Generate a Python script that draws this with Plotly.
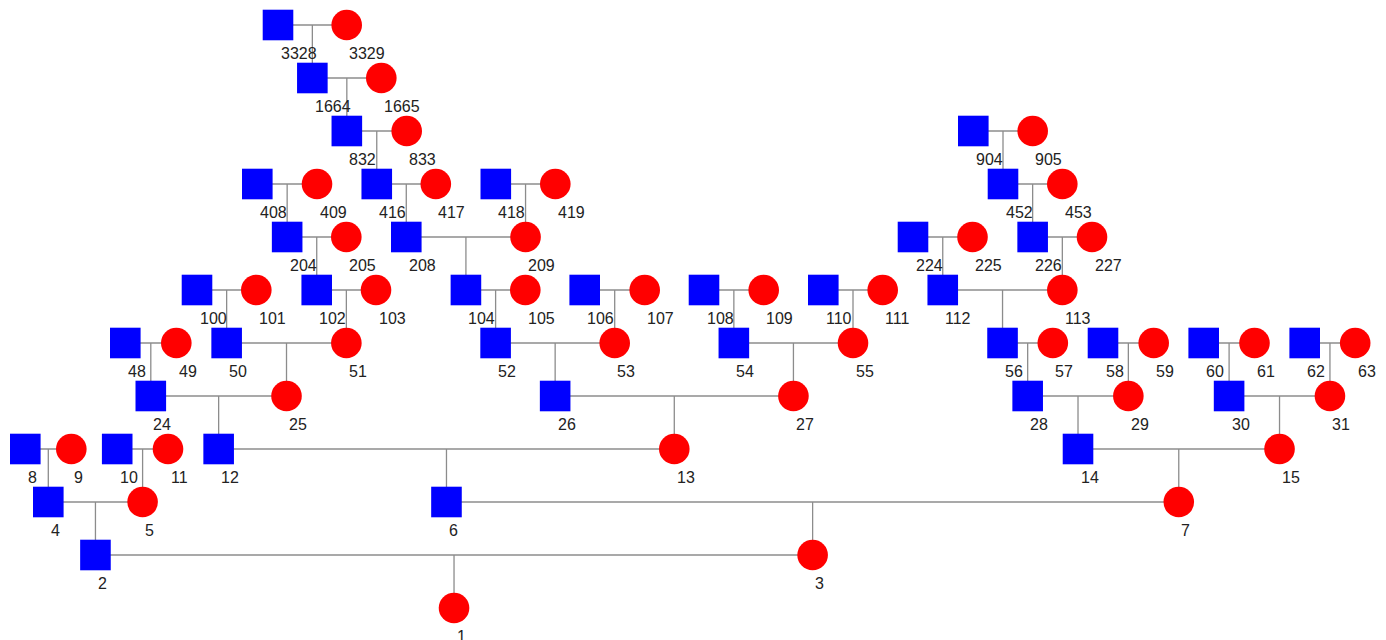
import plotly.graph_objects as go

# Ahnentafel numbers of everyone in the pedigree (father of n is 2n, mother is 2n+1)
person_ids = [1, 2, 3, 4, 5, 6, 7, 8, 9, 10, 11, 12, 13, 14, 15,
              24, 25, 26, 27, 28, 29, 30, 31,
              48, 49, 50, 51, 52, 53, 54, 55, 56, 57, 58, 59, 60, 61, 62, 63,
              100, 101, 102, 103, 104, 105, 106, 107, 108, 109, 110, 111, 112, 113,
              204, 205, 208, 209, 224, 225, 226, 227,
              408, 409, 416, 417, 418, 419, 452, 453,
              832, 833, 904, 905,
              1664, 1665,
              3328, 3329]

# founders (parents not shown) and their horizontal layout position
founder_ids = [8, 9, 10, 11, 48, 49, 100, 101, 103, 105, 106, 107, 108, 109, 110, 111,
               57, 58, 59, 60, 61, 62, 63, 205, 224, 225, 227,
               408, 409, 417, 418, 419, 453, 833, 904, 905, 1665, 3328, 3329]
founder_pos = [25.3, 71.3, 117.2, 168.0, 125.3, 176.3, 197.0, 256.3, 376.0, 525.3,
               584.7, 644.7, 704.0, 763.7, 823.3, 882.7,
               1052.8, 1103.0, 1153.7, 1203.7, 1254.5, 1304.7, 1355.2, 346.3, 913.0, 972.5, 1092.0,
               257.3, 317.0, 435.8, 495.8, 555.3, 1062.3, 406.7, 973.3, 1032.7, 381.3, 278.0, 346.7]

people = set(person_ids)
fpos = dict(zip(founder_ids, founder_pos))
cache = {}


def xpos(n):
    if n in fpos:
        return fpos[n]
    if n not in cache:
        cache[n] = (xpos(2 * n) + xpos(2 * n + 1)) / 2.0
    return cache[n]


def gen(n):
    return n.bit_length() - 1


X = {n: xpos(n) for n in person_ids}
G = {n: gen(n) for n in person_ids}

# connecting lines: couple line + line of descent
lx, ly = [], []
for c in person_ids:
    f, m = 2 * c, 2 * c + 1
    if f in people and m in people:
        gp = G[f]
        lx += [X[f], X[m], None, X[c], X[c], None]
        ly += [gp, gp, None, gp, G[c], None]

males = [n for n in person_ids if n % 2 == 0]
females = [n for n in person_ids if n % 2 == 1]

fig = go.Figure()
fig.add_trace(go.Scatter(x=lx, y=ly, mode="lines",
                         line=dict(color="#8c8c8c", width=1.3),
                         hoverinfo="skip", showlegend=False))
fig.add_trace(go.Scatter(x=[X[n] for n in males], y=[G[n] for n in males],
                         mode="markers", text=[str(n) for n in males],
                         marker=dict(symbol="square", size=30.6, color="#0000ff",
                                     line=dict(width=0)),
                         hoverinfo="text", showlegend=False))
fig.add_trace(go.Scatter(x=[X[n] for n in females], y=[G[n] for n in females],
                         mode="markers", text=[str(n) for n in females],
                         marker=dict(symbol="circle", size=30.6, color="#ff0000",
                                     line=dict(width=0)),
                         hoverinfo="text", showlegend=False))

annotations = []
for n in person_ids:
    annotations.append(dict(x=X[n], y=G[n], text=str(n), showarrow=False,
                            xanchor="left", yanchor="top", xshift=0.5, yshift=-17.5,
                            font=dict(family="Liberation Sans, Arial, sans-serif",
                                      size=16, color="#222222")))

fig.update_layout(
    width=1386, height=640,
    margin=dict(l=0, r=0, t=0, b=0),
    paper_bgcolor="white", plot_bgcolor="white",
    xaxis=dict(range=[0, 1386], visible=False, fixedrange=True),
    yaxis=dict(range=[-32 / 53, 608 / 53], visible=False, fixedrange=True),
    annotations=annotations,
    showlegend=False,
)

fig.write_html("out.html", config={"displayModeBar": False},
               post_script="document.body.style.margin='0';document.body.style.overflow='hidden';")
